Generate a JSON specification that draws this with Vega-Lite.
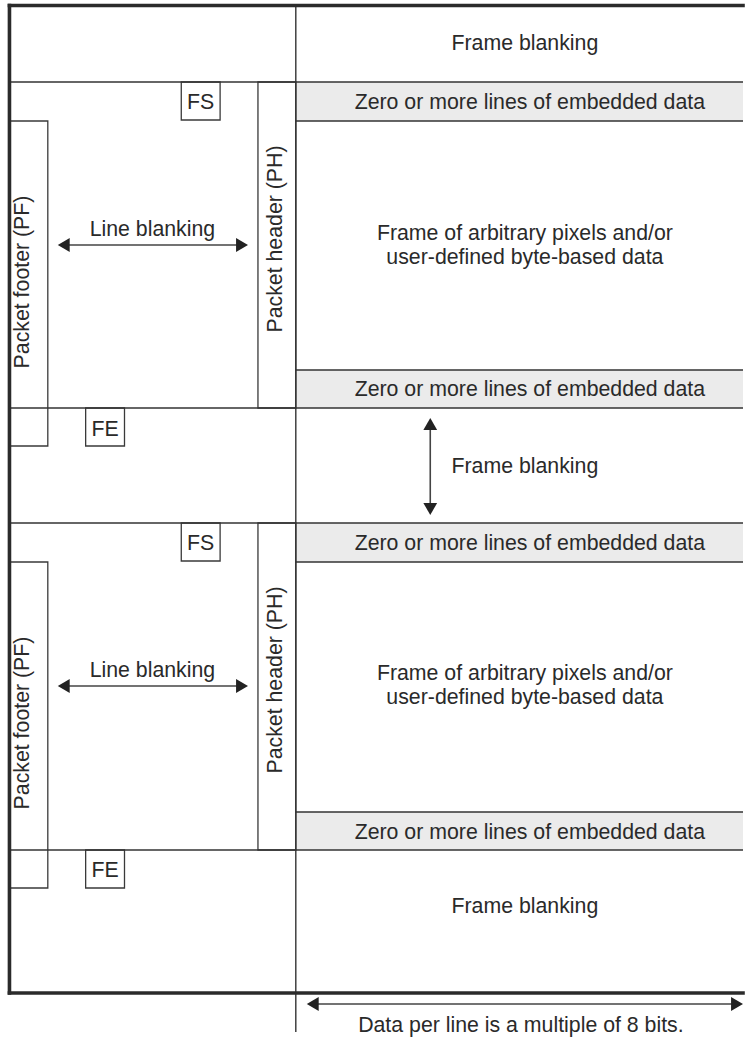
{
  "$schema": "https://vega.github.io/schema/vega-lite/v6.json",
  "width": 746,
  "height": 1038,
  "padding": 0,
  "autosize": {"type": "fit", "contains": "padding"},
  "background": "#ffffff",
  "config": {"view": {"stroke": null}},
  "datasets": {
    "bands": [
      {"x1": 297, "x2": 746, "y1": 82, "y2": 121},
      {"x1": 297, "x2": 746, "y1": 370, "y2": 408},
      {"x1": 297, "x2": 746, "y1": 523, "y2": 562},
      {"x1": 297, "x2": 746, "y1": 812, "y2": 850}
    ],
    "boxes": [
      {"x1": 182, "x2": 221, "y1": 82, "y2": 120},
      {"x1": 259, "x2": 297, "y1": 82, "y2": 408},
      {"x1": 10, "x2": 48, "y1": 121, "y2": 446},
      {"x1": 86, "x2": 125, "y1": 408, "y2": 446},
      {"x1": 182, "x2": 221, "y1": 523, "y2": 561},
      {"x1": 259, "x2": 297, "y1": 523, "y2": 850},
      {"x1": 10, "x2": 48, "y1": 562, "y2": 888},
      {"x1": 86, "x2": 125, "y1": 850, "y2": 888}
    ],
    "thin": [
      {"x1": 10, "x2": 746, "y1": 82, "y2": 82},
      {"x1": 297, "x2": 746, "y1": 121, "y2": 121},
      {"x1": 297, "x2": 746, "y1": 370, "y2": 370},
      {"x1": 10, "x2": 746, "y1": 408, "y2": 408},
      {"x1": 10, "x2": 746, "y1": 523, "y2": 523},
      {"x1": 297, "x2": 746, "y1": 562, "y2": 562},
      {"x1": 297, "x2": 746, "y1": 812, "y2": 812},
      {"x1": 10, "x2": 746, "y1": 850, "y2": 850},
      {"x1": 297, "x2": 297, "y1": 5, "y2": 1032}
    ],
    "thick": [
      {"x1": 9.5, "x2": 746, "y1": 5.5, "y2": 5.5},
      {"x1": 9.5, "x2": 9.5, "y1": 5.5, "y2": 993},
      {"x1": 9.5, "x2": 746, "y1": 993, "y2": 993}
    ],
    "shafts": [
      {"x1": 64, "x2": 243, "y1": 245, "y2": 245},
      {"x1": 64, "x2": 243, "y1": 686, "y2": 686},
      {"x1": 432, "x2": 432, "y1": 424, "y2": 509},
      {"x1": 314, "x2": 740, "y1": 1004, "y2": 1004}
    ],
    "heads": [
      {"x": 64, "y": 245, "shape": "triangle-left"},
      {"x": 243, "y": 245, "shape": "triangle-right"},
      {"x": 64, "y": 686, "shape": "triangle-left"},
      {"x": 243, "y": 686, "shape": "triangle-right"},
      {"x": 432, "y": 424, "shape": "triangle-up"},
      {"x": 432, "y": 509, "shape": "triangle-down"},
      {"x": 314, "y": 1004, "shape": "triangle-left"},
      {"x": 740, "y": 1004, "shape": "triangle-right"}
    ],
    "labels": [
      {"t": "Frame blanking", "x": 527, "y": 49.5},
      {"t": "Zero or more lines of embedded data", "x": 532, "y": 109},
      {"t": "Frame of arbitrary pixels and/or", "x": 527, "y": 240},
      {"t": "user-defined byte-based data", "x": 527, "y": 263.5},
      {"t": "Zero or more lines of embedded data", "x": 532, "y": 396},
      {"t": "Frame blanking", "x": 527, "y": 473},
      {"t": "Zero or more lines of embedded data", "x": 532, "y": 550},
      {"t": "Frame of arbitrary pixels and/or", "x": 527, "y": 680},
      {"t": "user-defined byte-based data", "x": 527, "y": 703.5},
      {"t": "Zero or more lines of embedded data", "x": 532, "y": 838.5},
      {"t": "Frame blanking", "x": 527, "y": 913},
      {"t": "Data per line is a multiple of 8 bits.", "x": 523, "y": 1031.5},
      {"t": "Line blanking", "x": 153, "y": 236},
      {"t": "Line blanking", "x": 153, "y": 677},
      {"t": "FS", "x": 201.5, "y": 109},
      {"t": "FS", "x": 201.5, "y": 550},
      {"t": "FE", "x": 105.5, "y": 436},
      {"t": "FE", "x": 105.5, "y": 877}
    ],
    "vlabels": [
      {"t": "Packet header (PH)", "x": 283, "y": 239},
      {"t": "Packet footer (PF)", "x": 29.5, "y": 282},
      {"t": "Packet header (PH)", "x": 283, "y": 680},
      {"t": "Packet footer (PF)", "x": 29.5, "y": 723}
    ]
  },
  "layer": [
    {
      "data": {"name": "bands"},
      "mark": {"type": "rect", "fill": "#ebebeb", "strokeWidth": 0},
      "encoding": {
        "x": {"field": "x1", "type": "quantitative", "scale": {"domain": [0, 746], "nice": false, "zero": false}, "axis": null},
        "x2": {"field": "x2"},
        "y": {"field": "y1", "type": "quantitative", "scale": {"domain": [0, 1038], "nice": false, "zero": false, "reverse": true}, "axis": null},
        "y2": {"field": "y2"}
      }
    },
    {
      "data": {"name": "boxes"},
      "mark": {"type": "rect", "fill": null, "fillOpacity": 0, "stroke": "#3a3a3a", "strokeWidth": 1.3},
      "encoding": {
        "x": {"field": "x1", "type": "quantitative", "scale": {"domain": [0, 746], "nice": false, "zero": false}, "axis": null},
        "x2": {"field": "x2"},
        "y": {"field": "y1", "type": "quantitative", "scale": {"domain": [0, 1038], "nice": false, "zero": false, "reverse": true}, "axis": null},
        "y2": {"field": "y2"}
      }
    },
    {
      "data": {"name": "thin"},
      "mark": {"type": "rule", "color": "#333333", "strokeWidth": 1.4},
      "encoding": {
        "x": {"field": "x1", "type": "quantitative", "scale": {"domain": [0, 746], "nice": false, "zero": false}, "axis": null},
        "x2": {"field": "x2"},
        "y": {"field": "y1", "type": "quantitative", "scale": {"domain": [0, 1038], "nice": false, "zero": false, "reverse": true}, "axis": null},
        "y2": {"field": "y2"}
      }
    },
    {
      "data": {"name": "thick"},
      "mark": {"type": "rule", "color": "#2b2b2b", "strokeWidth": 3.6, "strokeCap": "square"},
      "encoding": {
        "x": {"field": "x1", "type": "quantitative", "scale": {"domain": [0, 746], "nice": false, "zero": false}, "axis": null},
        "x2": {"field": "x2"},
        "y": {"field": "y1", "type": "quantitative", "scale": {"domain": [0, 1038], "nice": false, "zero": false, "reverse": true}, "axis": null},
        "y2": {"field": "y2"}
      }
    },
    {
      "data": {"name": "shafts"},
      "mark": {"type": "rule", "color": "#444444", "strokeWidth": 1.6},
      "encoding": {
        "x": {"field": "x1", "type": "quantitative", "scale": {"domain": [0, 746], "nice": false, "zero": false}, "axis": null},
        "x2": {"field": "x2"},
        "y": {"field": "y1", "type": "quantitative", "scale": {"domain": [0, 1038], "nice": false, "zero": false, "reverse": true}, "axis": null},
        "y2": {"field": "y2"}
      }
    },
    {
      "data": {"name": "heads"},
      "mark": {"type": "point", "filled": true, "fill": "#222222", "opacity": 1, "strokeWidth": 0, "size": 190},
      "encoding": {
        "x": {"field": "x", "type": "quantitative", "scale": {"domain": [0, 746], "nice": false, "zero": false}, "axis": null},
        "y": {"field": "y", "type": "quantitative", "scale": {"domain": [0, 1038], "nice": false, "zero": false, "reverse": true}, "axis": null},
        "shape": {"field": "shape", "type": "nominal", "scale": null, "legend": null}
      }
    },
    {
      "data": {"name": "labels"},
      "mark": {"type": "text", "font": "Liberation Sans", "fontSize": 21.3, "color": "#2a2a2a", "align": "center", "baseline": "alphabetic"},
      "encoding": {
        "x": {"field": "x", "type": "quantitative", "scale": {"domain": [0, 746], "nice": false, "zero": false}, "axis": null},
        "y": {"field": "y", "type": "quantitative", "scale": {"domain": [0, 1038], "nice": false, "zero": false, "reverse": true}, "axis": null},
        "text": {"field": "t"}
      }
    },
    {
      "data": {"name": "vlabels"},
      "mark": {"type": "text", "font": "Liberation Sans", "fontSize": 21.3, "color": "#2a2a2a", "align": "center", "baseline": "alphabetic", "angle": 270},
      "encoding": {
        "x": {"field": "x", "type": "quantitative", "scale": {"domain": [0, 746], "nice": false, "zero": false}, "axis": null},
        "y": {"field": "y", "type": "quantitative", "scale": {"domain": [0, 1038], "nice": false, "zero": false, "reverse": true}, "axis": null},
        "text": {"field": "t"}
      }
    }
  ]
}
